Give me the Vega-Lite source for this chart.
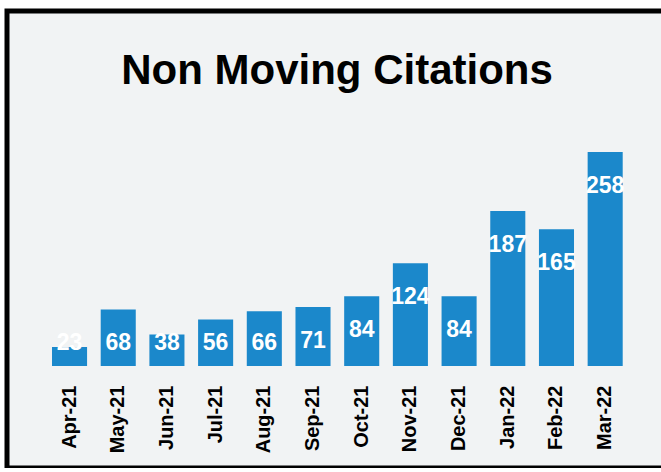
{
  "$schema": "https://vega.github.io/schema/vega-lite/v6.json",
  "autosize": "none",
  "padding": {"left": 7, "top": 11, "right": 0, "bottom": 0},
  "width": 660,
  "height": 457,
  "background": "#ffffff",
  "title": {
    "text": "Non Moving Citations",
    "font": "Liberation Sans",
    "fontSize": 42,
    "fontWeight": "bold",
    "color": "#000000",
    "anchor": "middle",
    "frame": "group",
    "baseline": "alphabetic",
    "offset": -115
  },
  "config": {
    "view": {"stroke": "#000000", "strokeWidth": 5, "fill": "#f1f3f4"}
  },
  "data": {
    "values": [
      {"month": "Apr-21", "value": 23},
      {"month": "May-21", "value": 68},
      {"month": "Jun-21", "value": 38},
      {"month": "Jul-21", "value": 56},
      {"month": "Aug-21", "value": 66},
      {"month": "Sep-21", "value": 71},
      {"month": "Oct-21", "value": 84},
      {"month": "Nov-21", "value": 124},
      {"month": "Dec-21", "value": 84},
      {"month": "Jan-22", "value": 187},
      {"month": "Feb-22", "value": 165},
      {"month": "Mar-22", "value": 258}
    ]
  },
  "encoding": {
    "x": {
      "field": "month",
      "type": "nominal",
      "sort": null,
      "scale": {"paddingInner": 0.28, "paddingOuter": 0.917, "align": 0.504},
      "axis": {
        "title": null,
        "orient": "bottom",
        "offset": -87,
        "labelPadding": 4,
        "ticks": false,
        "domain": false,
        "labelAngle": -90,
        "labelFont": "Liberation Sans",
        "labelFontSize": 20,
        "labelFontWeight": "bold",
        "labelColor": "#000000"
      }
    }
  },
  "layer": [
    {
      "mark": {"type": "bar", "color": "#1b88cb"},
      "encoding": {
        "y": {
          "field": "value",
          "type": "quantitative",
          "scale": {"domain": [-123, 428], "nice": false, "zero": false},
          "axis": null
        }
      }
    },
    {
      "transform": [{"calculate": "max(datum.value, 69)", "as": "labelPos"}],
      "mark": {
        "type": "text",
        "color": "#ffffff",
        "font": "Liberation Sans",
        "fontSize": 23,
        "fontWeight": "bold",
        "baseline": "middle",
        "dy": 34
      },
      "encoding": {
        "y": {
          "field": "labelPos",
          "type": "quantitative",
          "scale": {"domain": [-123, 428], "nice": false, "zero": false},
          "axis": null
        },
        "text": {"field": "value", "type": "quantitative"}
      }
    }
  ]
}
